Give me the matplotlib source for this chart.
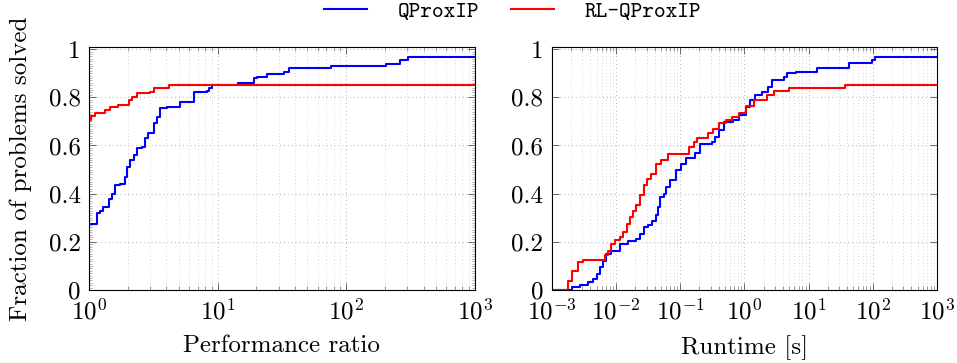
import numpy as np
import matplotlib
matplotlib.use("Agg")
import matplotlib.pyplot as plt
from matplotlib.ticker import LogLocator, FixedLocator, FuncFormatter, NullFormatter

plt.rcParams["font.family"] = "cmr10"
plt.rcParams["mathtext.fontset"] = "cm"
plt.rcParams["axes.formatter.use_mathtext"] = True

# performance profile (left): ratio where each step starts, fraction solved
perf_ratio_qp = [1.0, 1.148, 1.22, 1.29, 1.42, 1.50, 1.60, 1.75, 1.91, 1.97, 2.09, 2.22,
                 2.36, 2.58, 2.74, 2.90, 3.18, 3.38, 3.59, 4.04, 5.14, 6.53, 8.3, 8.55,
                 9.09, 14.3, 19.2, 20.4, 24.4, 33.0, 36.0, 76.4, 205.0, 261.0, 303.0, 1000.0]
perf_frac_qp = [0.275, 0.319, 0.330, 0.344, 0.379, 0.40, 0.435, 0.442, 0.469, 0.511, 0.539, 0.56,
                0.5875, 0.594, 0.629, 0.65, 0.692, 0.719, 0.754, 0.758, 0.782, 0.823, 0.826, 0.8375,
                0.851, 0.858, 0.879, 0.886, 0.897, 0.907, 0.921, 0.931, 0.939, 0.953, 0.967, 0.967]

perf_ratio_rl = [1.0, 1.03, 1.11, 1.33, 1.46, 1.69, 2.03, 2.15, 2.36, 3.0, 3.18, 4.17, 1000.0]
perf_frac_rl = [0.705, 0.722, 0.736, 0.747, 0.758, 0.768, 0.789, 0.803, 0.817, 0.823, 0.8375,
                0.851, 0.851]

# runtime profile (right): runtime in seconds, fraction solved
time_qp = [1e-3, 2.04e-3, 2.75e-3, 3.70e-3, 4.42e-3, 5.1e-3, 5.6e-3, 6.3e-3, 7.1e-3, 8.5e-3,
           1.15e-2, 1.55e-2, 2.08e-2, 2.34e-2, 2.70e-2, 3.15e-2, 3.68e-2, 4.15e-2, 4.51e-2,
           4.9e-2, 5.52e-2, 6.07e-2, 6.84e-2, 8.67e-2, 0.104, 0.124, 0.173, 0.204, 0.313,
           0.353, 0.407, 0.487, 0.656, 0.832, 1.055, 1.22, 1.47, 1.87, 2.37, 2.73, 4.15, 4.67,
           6.28, 13.6, 42.2, 97.0, 109.0, 1000.0]
frac_qp = [0.0, 0.011, 0.021, 0.032, 0.046, 0.067, 0.094, 0.122, 0.15, 0.164,
           0.192, 0.2025, 0.2125, 0.233, 0.261, 0.271, 0.285, 0.31, 0.344,
           0.386, 0.40, 0.4275, 0.455, 0.497, 0.525, 0.548, 0.567, 0.608, 0.615,
           0.636, 0.664, 0.698, 0.705, 0.726, 0.761, 0.789, 0.81, 0.823, 0.844, 0.872, 0.886, 0.9,
           0.907, 0.921, 0.944, 0.953, 0.967, 0.967]

time_rl = [1e-3, 1.81e-3, 2.04e-3, 2.59e-3, 3.1e-3, 6.7e-3, 7.57e-3, 8.5e-3, 9.6e-3, 1.15e-2,
           1.29e-2, 1.49e-2, 1.68e-2, 1.85e-2, 2.08e-2, 2.40e-2, 2.70e-2, 3.04e-2, 3.55e-2,
           4.24e-2, 5.07e-2, 6.44e-2, 0.136, 0.167, 0.181, 0.268, 0.321, 0.407, 0.516, 0.64,
           0.813, 1.055, 1.42, 2.29, 2.90, 4.95, 37.5, 1000.0]
frac_rl = [0.0, 0.039, 0.0775, 0.115, 0.125, 0.147, 0.164, 0.192, 0.206, 0.219,
           0.24, 0.275, 0.3025, 0.33, 0.351, 0.393, 0.435, 0.4625, 0.483,
           0.525, 0.539, 0.564, 0.594, 0.615, 0.633, 0.65, 0.667, 0.692, 0.705, 0.719,
           0.736, 0.764, 0.789, 0.81, 0.826, 0.84, 0.851, 0.851]

fig = plt.figure(figsize=(9.57, 3.63), dpi=100)
ax1 = fig.add_axes([0.093, 0.201, 0.403, 0.669])
ax2 = fig.add_axes([0.5765, 0.201, 0.4025, 0.669])

fs = 18


def style_axis(ax, xmin, xmax):
    ax.set_xscale("log")
    ax.set_xlim(xmin, xmax)
    ax.set_ylim(0, 1.008)
    ax.xaxis.set_major_locator(LogLocator(base=10, numticks=20))
    ax.xaxis.set_minor_locator(LogLocator(base=10, subs=np.arange(2, 10), numticks=100))
    ax.xaxis.set_minor_formatter(NullFormatter())
    ax.yaxis.set_major_locator(FixedLocator([0, 0.2, 0.4, 0.6, 0.8, 1.0]))
    ax.yaxis.set_major_formatter(FuncFormatter(lambda v, p: "%g" % round(v, 2)))
    ax.grid(True, which="major", color="#b0b0b0", linestyle=(0, (1, 3)), linewidth=0.7)
    ax.grid(True, which="minor", axis="x", color="#c8c8c8", linestyle=(0, (1, 3)), linewidth=0.6)
    ax.tick_params(which="both", direction="in", top=True, right=True, labelsize=fs)
    ax.tick_params(axis="x", which="major", pad=6)
    ax.tick_params(axis="y", which="major", pad=6)
    ax.tick_params(which="major", length=5, width=0.6, color="#555555")
    ax.tick_params(which="minor", length=3, width=0.5, color="#777777")
    for s in ax.spines.values():
        s.set_linewidth(0.8)


style_axis(ax1, 1, 1000)
style_axis(ax2, 1e-3, 1000)
ax1.yaxis.set_minor_locator(FixedLocator(np.arange(0, 1.001, 0.01)))
ax1.tick_params(axis="y", which="minor", length=2, width=0.4)

ax1.step(perf_ratio_qp, perf_frac_qp, where="post", color="blue", lw=1.5, label="QProxIP")
ax1.step(perf_ratio_rl, perf_frac_rl, where="post", color="red", lw=1.5, label="RL-QProxIP")
ax2.step(time_qp, frac_qp, where="post", color="blue", lw=1.5)
ax2.step(time_rl, frac_rl, where="post", color="red", lw=1.5)

ax1.set_xlabel("Performance ratio", fontsize=fs, labelpad=8)
ax2.set_xlabel("Runtime [s]", fontsize=fs, labelpad=8)
ax1.set_ylabel("Fraction of problems solved", fontsize=fs, labelpad=12)

fig.legend(loc="upper left", bbox_to_anchor=(0.3386, 0.997), ncol=2, frameon=False,
           prop={"family": "cmtt10", "size": 16}, handlelength=1.93, columnspacing=1.43,
           handletextpad=1.39, borderpad=0, borderaxespad=0)

fig.savefig("out.png", dpi=100)
